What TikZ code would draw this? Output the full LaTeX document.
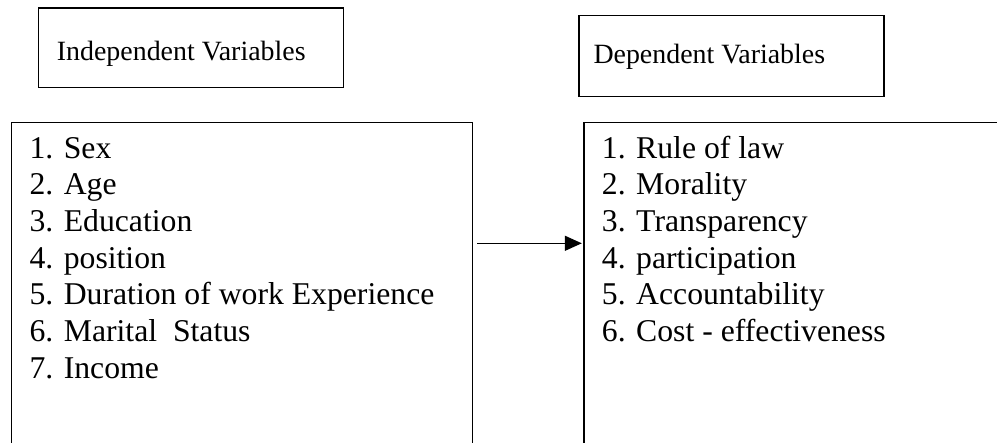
\documentclass[tikz,border=0pt]{standalone}
\usepackage{fontspec}
\setmainfont{Liberation Serif}
\usetikzlibrary{arrows.meta}
\tikzset{
  frame/.style={draw, line width=1.4pt, inner sep=0pt, anchor=north west},
  headtext/.style={anchor=base west, inner sep=0pt, font=\fontsize{27.9}{32}\selectfont},
  itemtext/.style={anchor=base west, inner sep=0pt, font=\fontsize{31.7}{36.7}\selectfont},
  arr/.style={line width=1.4pt, -{Triangle[length=17pt,width=15pt]}}
}
\begin{document}
\begin{tikzpicture}[x=1pt,y=-1pt]
\useasboundingbox (0,0) rectangle (997,443);
\clip (0,0) rectangle (997,443);
% header boxes
\node[frame, minimum width=305.3pt, minimum height=79.7pt] (ih) at (37.7,7.3) {};
\node[headtext] (iht) at (56.7,60.5) {Independent Variables};
\node[frame, minimum width=305pt, minimum height=80.7pt] (dh) at (578.3,15) {};
\node[headtext] (dht) at (593.3,63.5) {Dependent Variables};
% list boxes (cut off at the bottom)
\node[frame, minimum width=461pt, minimum height=400pt] (iv) at (10.7,121.7) {};
\node[frame, minimum width=450pt, minimum height=400pt] (dv) at (583.3,121.7) {};
% items
\foreach \t [count=\i] in {1. Sex, 2. Age, 3. Education, 4. position,
  5. Duration of work Experience, 6. Marital~ Status, 7. Income}
  \node[itemtext] (iv\i) at (29.3,{158.3+(\i-1)*36.67}) {\t};
\foreach \t [count=\i] in {1. Rule of law, 2. Morality, 3. Transparency,
  4. participation, 5. Accountability, 6. Cost - effectiveness}
  \node[itemtext] (dv\i) at (601.7,{158.3+(\i-1)*36.67}) {\t};
% arrow
\coordinate (ay) at (0,243.3);
\draw[arr, shorten <=4.3pt, shorten >=1.5pt] (iv.east |- ay) -- (dv.west |- ay);
\end{tikzpicture}
\end{document}
